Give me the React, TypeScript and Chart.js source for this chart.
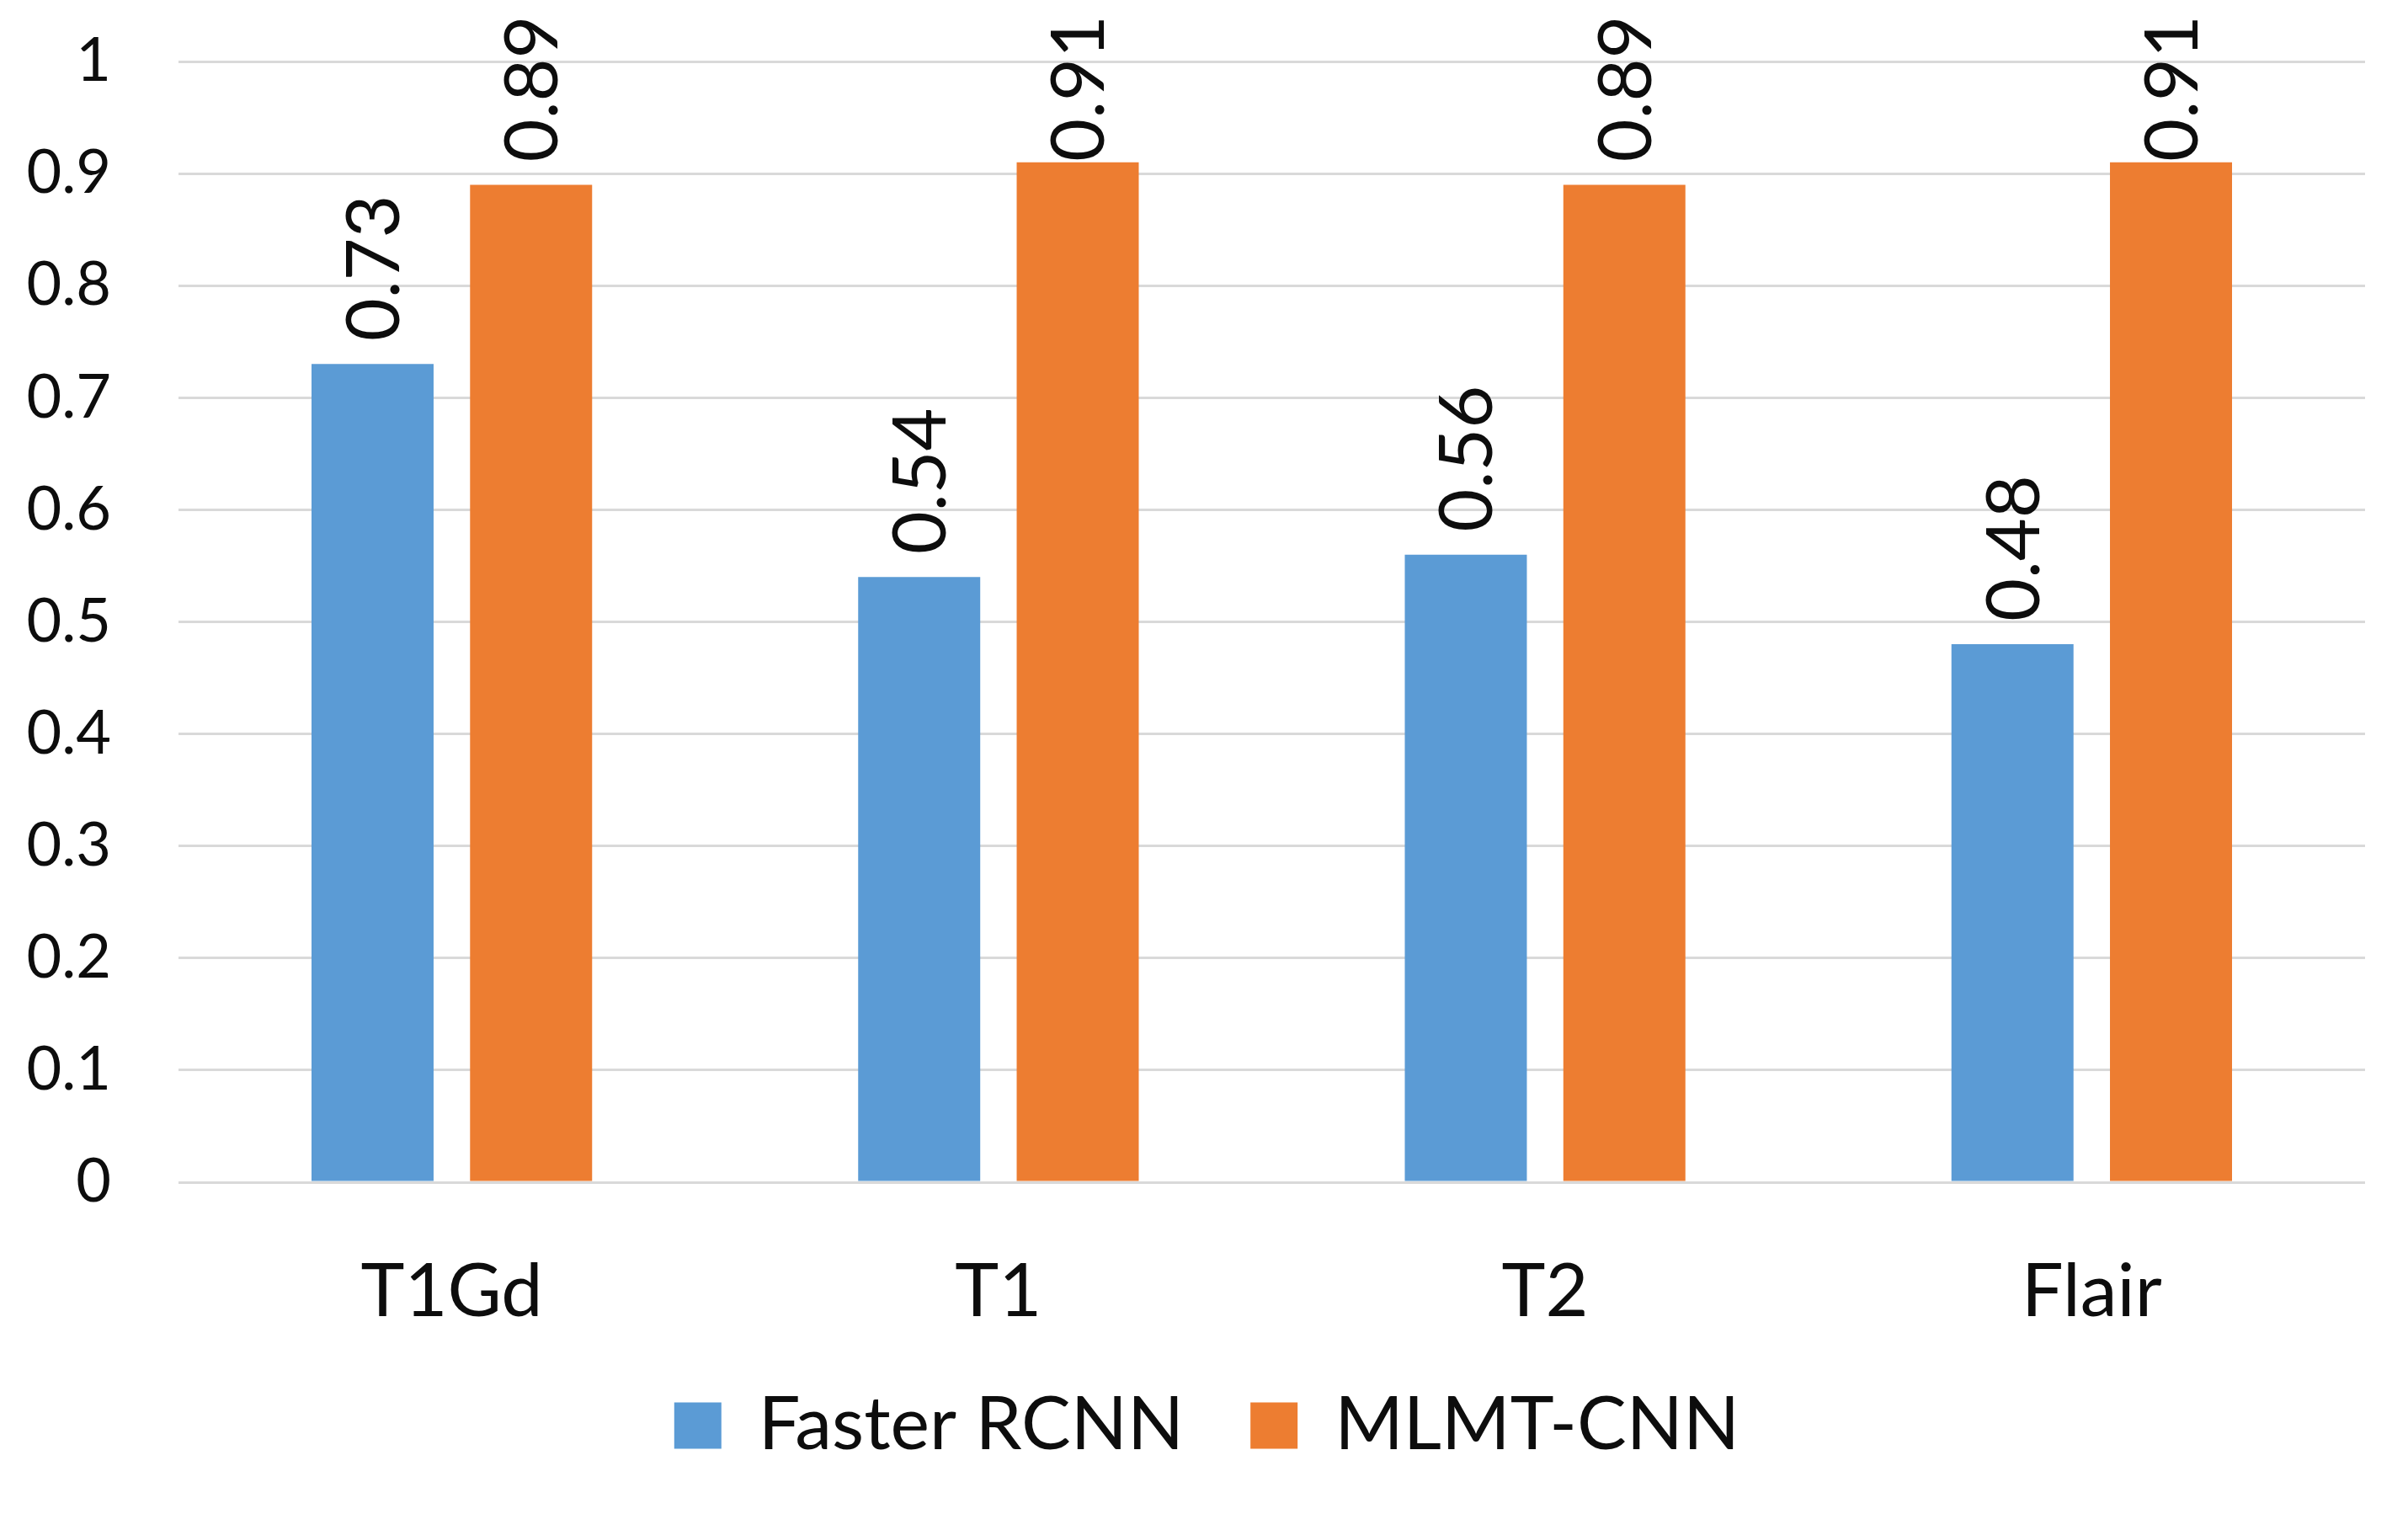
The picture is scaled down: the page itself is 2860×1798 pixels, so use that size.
import React, { useEffect, useRef } from "react";
import { Chart, registerables } from "chart.js";

Chart.register(...registerables);

const categories = ["T1Gd", "T1", "T2", "Flair"];
const fasterRcnn = [0.73, 0.54, 0.56, 0.48];
const mlmtCnn = [0.89, 0.91, 0.89, 0.91];
const seriesNames = ["Faster RCNN", "MLMT-CNN"];
const yTickLabels = ["0", "0.1", "0.2", "0.3", "0.4", "0.5", "0.6", "0.7", "0.8", "0.9", "1"];

const FONT = "Lato";
const TEXT = "#0d0d0d";

const barLabels = {
  id: "barLabels",
  afterDatasetsDraw(chart: any) {
    const ctx = chart.ctx;
    ctx.save();
    ctx.fillStyle = TEXT;
    ctx.font = `88px ${FONT}`;
    ctx.textAlign = "left";
    ctx.textBaseline = "middle";
    chart.data.datasets.forEach((ds: any, di: number) => {
      const meta = chart.getDatasetMeta(di);
      meta.data.forEach((bar: any, i: number) => {
        const text = String(ds.data[i]);
        const len = ctx.measureText(text).width;
        let start = bar.y - 27;
        if (start - len < 18) start = 18 + len;
        ctx.save();
        ctx.translate(bar.x + 3, start);
        ctx.rotate(-Math.PI / 2);
        ctx.fillText(text, 0, 0);
        ctx.restore();
      });
    });
    ctx.restore();
  },
};

export default function App() {
  const ref = useRef<HTMLCanvasElement | null>(null);
  useEffect(() => {
    document.body.style.margin = "0";
    const canvas = ref.current;
    if (!canvas) return;
    const chart = new Chart(canvas, {
      type: "bar",
      data: {
        labels: categories,
        datasets: [
          {
            label: seriesNames[0],
            data: fasterRcnn,
            backgroundColor: "#5B9BD5",
            categoryPercentage: 0.58,
            barPercentage: 0.77,
          },
          {
            label: seriesNames[1],
            data: mlmtCnn,
            backgroundColor: "#ED7D31",
            categoryPercentage: 0.58,
            barPercentage: 0.77,
          },
        ],
      },
      options: {
        animation: false,
        responsive: false,
        maintainAspectRatio: false,
        layout: { padding: { top: 73, right: 0, bottom: 51, left: 7 } },
        plugins: {
          legend: {
            position: "bottom",
            labels: {
              boxWidth: 56,
              boxHeight: 55,
              padding: 79,
              color: TEXT,
              font: { family: FONT, size: 88 },
            },
          },
          tooltip: { enabled: false },
          title: { display: false },
        },
        scales: {
          x: {
            grid: { display: false, drawTicks: false },
            border: { display: false },
            ticks: {
              color: TEXT,
              padding: 78,
              font: { family: FONT, size: 88 },
            },
            afterFit: (s: any) => {
              s.height = 166;
            },
          },
          y: {
            min: 0,
            max: 1,
            grid: {
              color: "#D9D9D9",
              lineWidth: 3,
              drawTicks: true,
              tickLength: 72,
              tickColor: "rgba(0,0,0,0)",
            },
            border: { display: false },
            ticks: {
              stepSize: 0.1,
              color: TEXT,
              padding: 8,
              font: { family: FONT, size: 72 },
              callback: (_v: any, i: number) => yTickLabels[i],
            },
            afterFit: (s: any) => {
              s.width = 205;
            },
          },
          yRightSpace: {
            type: "linear",
            position: "right",
            display: true,
            grid: { display: false, drawTicks: false },
            border: { display: false },
            ticks: { display: false },
            afterFit: (s: any) => {
              s.width = 51;
            },
          },
        },
      },
      plugins: [barLabels],
    });
    return () => chart.destroy();
  }, []);
  return (
    <div style={{ position: "absolute", left: 0, top: 0, width: 2860, height: 1798, background: "#fff" }}>
      <canvas ref={ref} width={2860} height={1798} style={{ width: 2860, height: 1798, display: "block" }} />
    </div>
  );
}
